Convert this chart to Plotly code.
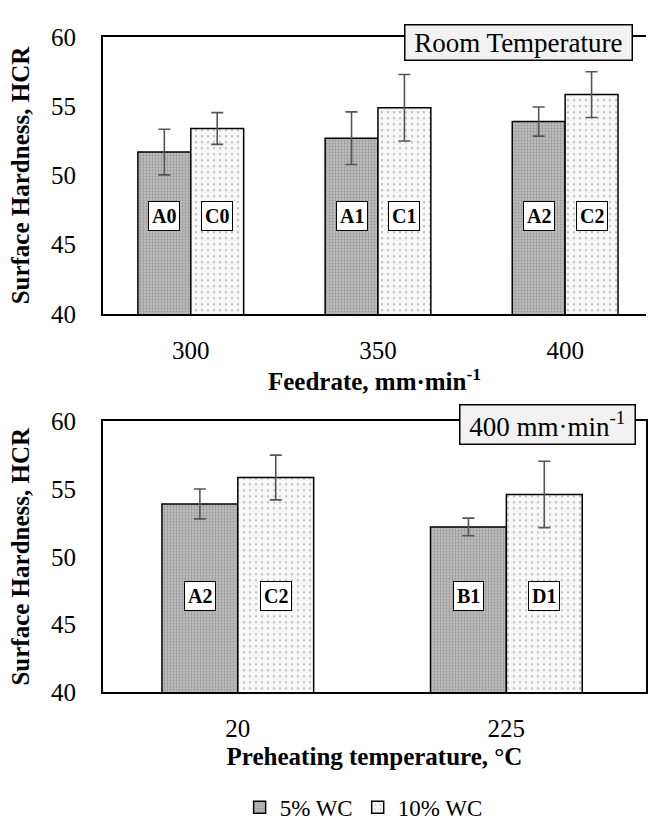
import plotly.graph_objects as go
from plotly.subplots import make_subplots

# ---------------- data ----------------
feed_cats = ["300", "350", "400"]
feed_5wc = [51.7, 52.7, 53.9]
feed_5wc_err = [1.65, 1.9, 1.05]
feed_10wc = [53.4, 54.9, 55.85]
feed_10wc_err = [1.15, 2.4, 1.65]
feed_lbl_5 = ["A0", "A1", "A2"]
feed_lbl_10 = ["C0", "C1", "C2"]

pre_cats = ["20", "225"]
pre_5wc = [53.9, 52.2]
pre_5wc_err = [1.1, 0.65]
pre_10wc = [55.85, 54.6]
pre_10wc_err = [1.65, 2.45]
pre_lbl_5 = ["A2", "B1"]
pre_lbl_10 = ["C2", "D1"]

series_names = ["5% WC", "10% WC"]
label_y = 47.1

FONT = "Liberation Serif"
W, H = 648, 832
BARGAP = 0.435

fig = make_subplots(rows=2, cols=1)

style5 = dict(color="#bdbdbd", line=dict(color="black", width=1.5),
              pattern=dict(shape=".", fgcolor="#6a6a6a", bgcolor="#c4c4c4", size=3, solidity=0.45))
style10 = dict(color="#f6f6f6", line=dict(color="black", width=1.5),
               pattern=dict(shape=".", fgcolor="#8a8a8a", bgcolor="#f8f8f8", size=6, solidity=0.12))
err = dict(type="data", color="#555555", thickness=1.6, width=6)

for row, cats, v5, e5, v10, e10, show in [
    (1, feed_cats, feed_5wc, feed_5wc_err, feed_10wc, feed_10wc_err, True),
    (2, pre_cats, pre_5wc, pre_5wc_err, pre_10wc, pre_10wc_err, False),
]:
    fig.add_trace(go.Bar(x=cats, y=v5, name=series_names[0], marker=style5,
                         error_y=dict(array=e5, **err), showlegend=show,
                         legendgroup="a"), row=row, col=1)
    fig.add_trace(go.Bar(x=cats, y=v10, name=series_names[1], marker=style10,
                         error_y=dict(array=e10, **err), showlegend=show,
                         legendgroup="b"), row=row, col=1)

# geometry
L, R = 103, 1
fig.update_layout(
    width=W, height=H, margin=dict(l=L, r=R, t=0, b=0),
    paper_bgcolor="white", plot_bgcolor="white",
    barmode="group", bargap=BARGAP, bargroupgap=0,
    font=dict(family=FONT, color="black"),
    legend=dict(orientation="h", x=0.48, xanchor="center", y=1 - 821 / H, yanchor="middle",
                font=dict(size=23, family=FONT), itemwidth=30, tracegroupgap=0,
                bgcolor="rgba(0,0,0,0)"),
)

axis_common = dict(showgrid=False, zeroline=False, ticks="", linecolor="black", linewidth=2,
                   tickfont=dict(size=25, family=FONT, color="black"))

fig.update_xaxes(**axis_common, type="category", ticklabelstandoff=13)
fig.update_yaxes(**axis_common, range=[40, 60], tickvals=[40, 45, 50, 55, 60], ticklabelstandoff=20)

fig.update_layout(
    xaxis=dict(domain=[0, 1], range=[-0.469, 2.432], showline=True, mirror=True,
               title=dict(text="<b>Feedrate, mm·min<sup>-1</sup></b>", font=dict(size=25, family=FONT),
                          standoff=6)),
    yaxis=dict(domain=[1 - 311 / H, 1 - 25 / H], showline=True, mirror=False,
               title=dict(text="<b>Surface Hardness, HCR</b>", font=dict(size=25, family=FONT),
                          standoff=14)),
    xaxis2=dict(domain=[0, 1], range=[-0.502, 1.520], showline=True, mirror=True,
                title=dict(text="<b>Preheating temperature, °C</b>", font=dict(size=25, family=FONT),
                           standoff=6)),
    yaxis2=dict(domain=[1 - 702 / H, 1 - 422 / H], showline=True, mirror=True,
                title=dict(text="<b>Surface Hardness, HCR</b>", font=dict(size=25, family=FONT),
                           standoff=14)),
)

# bar-code labels centred on each bar
off = (1 - BARGAP) / 4
ann = []
for xr, yr, lbl5, lbl10 in [("x", "y", feed_lbl_5, feed_lbl_10), ("x2", "y2", pre_lbl_5, pre_lbl_10)]:
    for i, (a, c) in enumerate(zip(lbl5, lbl10)):
        for lbl, dx in [(a, -off), (c, off)]:
            ann.append(dict(x=i + dx, y=label_y, xref=xr, yref=yr, text=f"<b>{lbl}</b>",
                            showarrow=False, font=dict(size=20, family=FONT, color="black"),
                            bgcolor="white", bordercolor="black", borderwidth=1, borderpad=3))

PW = W - L - R
ann.append(dict(x=(519 - L) / PW, y=1 - 30 / H, xref="paper", yref="paper",
                text="&nbsp;Room Temperature&nbsp;", showarrow=False, xanchor="center", yanchor="middle",
                font=dict(size=27, family=FONT, color="black"), bgcolor="#f2f2f2",
                bordercolor="black", borderwidth=1.5, borderpad=2))
ann.append(dict(x=(548.5 - L) / PW, y=1 - 425 / H, xref="paper", yref="paper",
                text="&nbsp;400 mm·min<sup>-1</sup>&nbsp;", showarrow=False, xanchor="center", yanchor="middle",
                font=dict(size=27, family=FONT, color="black"), bgcolor="#f2f2f2",
                bordercolor="black", borderwidth=1.5, borderpad=2))
fig.update_layout(annotations=ann)

fig.write_html("out.html")
